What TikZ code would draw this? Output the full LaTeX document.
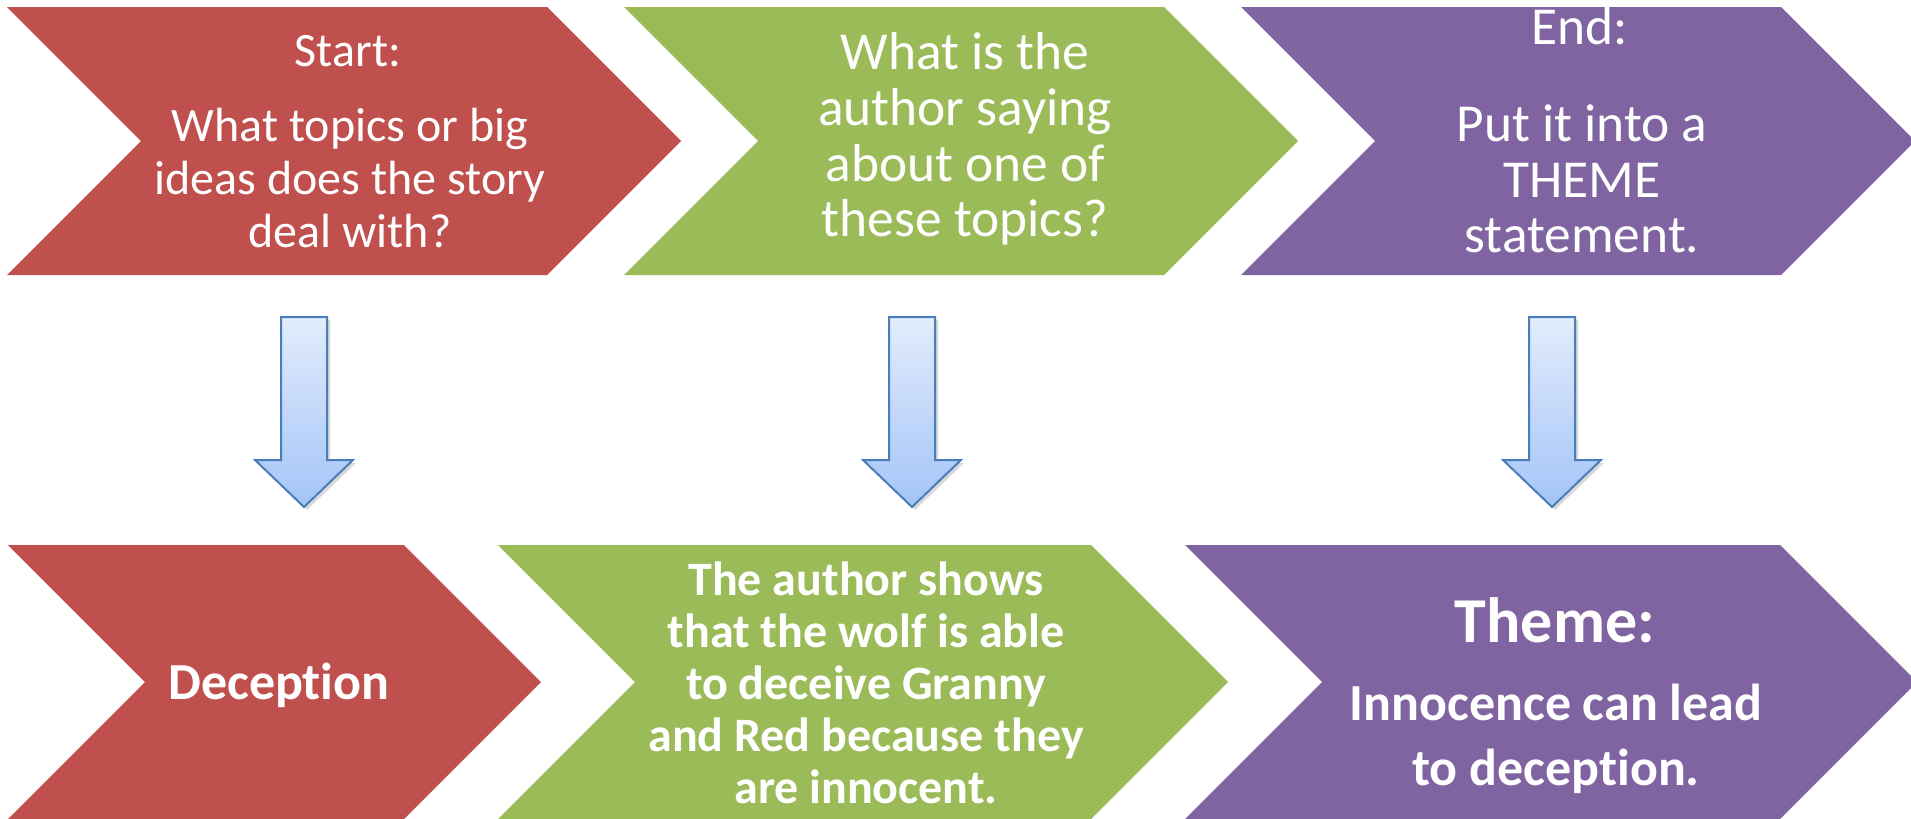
\documentclass[tikz,border=0pt]{standalone}
\usepackage{fontspec}
\setmainfont{Carlito}[Ligatures={NoCommon}]
\usepackage{tikz}
\definecolor{colorRed}{RGB}{192,80,77}
\definecolor{colorGreen}{RGB}{155,187,89}
\definecolor{colorPurple}{RGB}{128,100,162}
\definecolor{colorArrowTop}{RGB}{226,236,252}
\definecolor{colorArrowBot}{RGB}{163,196,248}
\definecolor{colorArrowLine}{RGB}{74,126,187}
\usetikzlibrary{calc}
\usetikzlibrary{shadows}
\tikzset{
   redchev/.style={fill=colorRed},
   greenchev/.style={fill=colorGreen},
   purplechev/.style={fill=colorPurple},
   txt/.style={text=white,align=center,inner sep=0pt},
   asksmall/.style={txt,font=\fontsize{24}{26.5}\selectfont},
   ask/.style={txt,font=\fontsize{26.7}{27.8}\selectfont},
   answer/.style={txt,font=\bfseries\fontsize{24}{26}\selectfont},
   answerbig/.style={txt,font=\bfseries\fontsize{26}{32.5}\selectfont},
   heading/.style={txt,font=\bfseries\fontsize{32}{38}\selectfont},
   blockarrow/.style={draw=colorArrowLine,line width=1pt,line join=miter,
      top color=colorArrowTop,bottom color=colorArrowBot,
      drop shadow={opacity=0.3,shadow xshift=1.5pt,shadow yshift=-1.5pt}},
}
% #1 style, #2 left, #3 corner, #4 top, #5 bottom
\newcommand{\chev}[5]{%
   \fill[#1] (#2,#4) -- (#3,#4) -- ({#3+(#5-#4)/2},{(#4+#5)/2}) -- (#3,#5)
      -- (#2,#5) -- ({#2+(#5-#4)/2},{(#4+#5)/2}) -- cycle;}
\newcommand{\blockdown}[2]{%
   \draw[blockarrow] ($(#1)+(-23,0)$) -- ($(#1)+(23,0)$) -- ($(#2)+(23,-47)$)
      -- ($(#2)+(49,-47)$) -- (#2) -- ($(#2)+(-49,-47)$) -- ($(#2)+(-23,-47)$) -- cycle;}

\begin{document}
\begin{tikzpicture}[x=0.5pt,y=-0.5pt]

        \useasboundingbox (0,0) rectangle (1911,819);
        \clip (0,0) rectangle (1911,819);

        \chev{redchev}{7}{547}{7}{275}
        \chev{greenchev}{624}{1164}{7}{275}
        \chev{purplechev}{1241}{1781}{7}{275}

        \chev{redchev}{8}{404}{545}{819}
        \chev{greenchev}{498}{1091}{545}{819}
        \chev{purplechev}{1185}{1780}{545}{819}

        \node[asksmall] (start) at (348,51) {Start:};
        \node[asksmall] (topics) at (350,178) {What topics or big\\ideas does the story\\deal with?};

        \node[ask] (saying) at (965,139) {What is the\\author saying\\about one of\\these topics?};

        \node[ask] (end) at (1580,26) {End:};
        \node[ask] (statement) at (1582,179) {Put it into a\\THEME\\statement.};

        \node[answerbig] (deception) at (279,685) {Deception};

        \node[answer] (wolf) at (866,683) {The author shows\\that the wolf is able\\to deceive Granny\\and Red because they\\are innocent.};

        \node[heading] (theme) at (1555,620) {Theme:};
        \node[answerbig] (innocence) at (1556,739) {Innocence can lead\\to deception.};

        \coordinate (a1) at (304,317);
        \coordinate (t1) at (304,507);
        \coordinate (a2) at (912,317);
        \coordinate (t2) at (912,507);
        \coordinate (a3) at (1552,317);
        \coordinate (t3) at (1552,507);

        \blockdown{a1}{t1}
        \blockdown{a2}{t2}
        \blockdown{a3}{t3}

\end{tikzpicture}
\end{document}
